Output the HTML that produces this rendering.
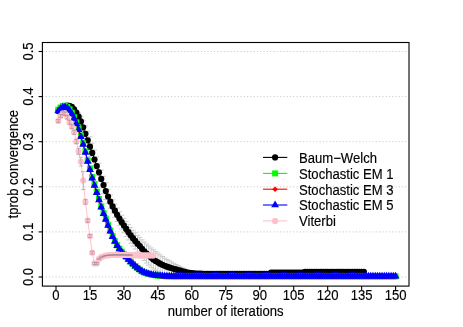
<!DOCTYPE html><html><head><meta charset="utf-8"><title>plot</title><style>html,body{margin:0;padding:0;background:#fff}svg{display:block}text{font-family:"Liberation Sans",sans-serif;font-size:13.1px;fill:#000;stroke:#000;stroke-width:0.15px}</style></head><body>
<svg width="463" height="327" viewBox="0 0 463 327">
<rect width="463" height="327" fill="#fff"/>
<defs><clipPath id="c"><rect x="42.40" y="42.50" width="366.60" height="243.60"/></clipPath></defs>
<g stroke="#cdcdcd" stroke-width="1" stroke-dasharray="1.2 2.1" fill="none">
<line x1="42.40" y1="277.00" x2="409.00" y2="277.00"/>
<line x1="42.40" y1="231.90" x2="409.00" y2="231.90"/>
<line x1="42.40" y1="186.80" x2="409.00" y2="186.80"/>
<line x1="42.40" y1="141.70" x2="409.00" y2="141.70"/>
<line x1="42.40" y1="96.60" x2="409.00" y2="96.60"/>
<line x1="42.40" y1="51.50" x2="409.00" y2="51.50"/>
</g>
<g clip-path="url(#c)">
<g stroke="#c6c6c6" stroke-width="0.90" fill="none"><path d="M58.26 111.48V110.58M55.66 111.48H60.86M55.66 110.58H60.86M60.53 109.23V108.32M57.93 109.23H63.13M57.93 108.32H63.13M62.79 107.67V106.73M60.19 107.67H65.39M60.19 106.73H65.39M65.06 106.57V105.57M62.46 106.57H67.66M62.46 105.57H67.66M67.32 106.16V105.08M64.72 106.16H69.92M64.72 105.08H69.92M69.58 106.45V105.24M66.98 106.45H72.18M66.98 105.24H72.18M71.85 107.65V106.30M69.25 107.65H74.45M69.25 106.30H74.45M74.11 110.49V108.42M71.51 110.49H76.71M71.51 108.42H76.71M76.38 114.59V110.63M73.78 114.59H78.98M73.78 110.63H78.98M78.64 120.28V113.06M76.04 120.28H81.24M76.04 113.06H81.24M80.90 126.37V116.44M78.30 126.37H83.50M78.30 116.44H83.50M83.17 133.94V120.77M80.57 133.94H85.77M80.57 120.77H85.77M85.43 141.70V125.91M82.83 141.70H88.03M82.83 125.91H88.03M87.70 149.50V131.19M85.10 149.50H90.30M85.10 131.19H90.30M89.96 156.49V136.83M87.36 156.49H92.56M87.36 136.83H92.56M92.22 162.81V143.14M89.62 162.81H94.82M89.62 143.14H94.82M94.49 169.11V149.92M91.89 169.11H97.09M91.89 149.92H97.09M96.75 175.30V156.81M94.15 175.30H99.35M94.15 156.81H99.35M99.02 181.42V163.31M96.42 181.42H101.62M96.42 163.31H101.62M101.28 187.80V170.01M98.68 187.80H103.88M98.68 170.01H103.88M103.54 193.70V176.29M100.94 193.70H106.14M100.94 176.29H106.14M105.81 199.52V182.65M103.21 199.52H108.41M103.21 182.65H108.41M108.07 203.49V189.51M105.47 203.49H110.67M105.47 189.51H110.67M110.34 208.41V194.96M107.74 208.41H112.94M107.74 194.96H112.94M112.60 213.05V199.79M110.00 213.05H115.20M110.00 199.79H115.20M114.86 217.35V204.05M112.26 217.35H117.46M112.26 204.05H117.46M117.13 221.47V208.06M114.53 221.47H119.73M114.53 208.06H119.73M119.39 225.39V211.81M116.79 225.39H121.99M116.79 211.81H121.99M121.66 229.10V215.30M119.06 229.10H124.26M119.06 215.30H124.26M123.92 232.80V218.37M121.32 232.80H126.52M121.32 218.37H126.52M126.18 236.55V221.39M123.58 236.55H128.78M123.58 221.39H128.78M128.45 239.88V224.37M125.85 239.88H131.05M125.85 224.37H131.05M130.71 243.18V227.39M128.11 243.18H133.31M128.11 227.39H133.31M132.98 246.23V230.20M130.38 246.23H135.58M130.38 230.20H135.58M135.24 249.06V232.78M132.64 249.06H137.84M132.64 232.78H137.84M137.50 251.92V235.33M134.90 251.92H140.10M134.90 235.33H140.10M139.77 254.76V237.45M137.17 254.76H142.37M137.17 237.45H142.37M142.03 257.83V239.79M139.43 257.83H144.63M139.43 239.79H144.63M144.30 260.52V242.07M141.70 260.52H146.90M141.70 242.07H146.90M146.56 262.96V244.14M143.96 262.96H149.16M143.96 244.14H149.16M148.82 265.14V246.02M146.22 265.14H151.42M146.22 246.02H151.42M151.09 267.27V247.95M148.49 267.27H153.69M148.49 247.95H153.69M153.35 269.11V249.71M150.75 269.11H155.95M150.75 249.71H155.95M155.62 270.57V251.41M153.02 270.57H158.22M153.02 251.41H158.22M157.88 271.62V253.07M155.28 271.62H160.48M155.28 253.07H160.48M160.14 272.52V254.87M157.54 272.52H162.74M157.54 254.87H162.74M162.41 273.11V256.54M159.81 273.11H165.01M159.81 256.54H165.01M164.67 273.44V258.01M162.07 273.44H167.27M162.07 258.01H167.27M166.94 273.78V259.47M164.34 273.78H169.54M164.34 259.47H169.54M169.20 274.04V260.75M166.60 274.04H171.80M166.60 260.75H171.80M171.46 274.21V262.01M168.86 274.21H174.06M168.86 262.01H174.06M173.73 274.31V263.28M171.13 274.31H176.33M171.13 263.28H176.33M175.99 274.39V264.50M173.39 274.39H178.59M173.39 264.50H178.59M178.26 274.49V265.65M175.66 274.49H180.86M175.66 265.65H180.86M180.52 274.62V266.76M177.92 274.62H183.12M177.92 266.76H183.12M182.78 274.78V267.89M180.18 274.78H185.38M180.18 267.89H185.38M185.05 274.95V268.99M182.45 274.95H187.65M182.45 268.99H187.65M187.31 275.03V269.95M184.71 275.03H189.91M184.71 269.95H189.91M189.58 275.03V270.74M186.98 275.03H192.18M186.98 270.74H192.18M191.84 274.97V271.36M189.24 274.97H194.44M189.24 271.36H194.44M194.10 274.84V271.87M191.50 274.84H196.70M191.50 271.87H196.70M196.37 274.66V272.35M193.77 274.66H198.97M193.77 272.35H198.97M198.63 274.47V272.76M196.03 274.47H201.23M196.03 272.76H201.23M200.90 274.32V273.12M198.30 274.32H203.50M198.30 273.12H203.50M203.16 274.24V273.38M200.56 274.24H205.76M200.56 273.38H205.76M205.42 274.20V273.48M202.82 274.20H208.02M202.82 273.48H208.02M207.69 274.20V273.49M205.09 274.20H210.29M205.09 273.49H210.29M209.95 274.19V273.49M207.35 274.19H212.55M207.35 273.49H212.55M212.22 274.19V273.50M209.62 274.19H214.82M209.62 273.50H214.82M214.48 274.18V273.50M211.88 274.18H217.08M211.88 273.50H217.08M216.74 274.18V273.51M214.14 274.18H219.34M214.14 273.51H219.34M219.01 274.17V273.51M216.41 274.17H221.61M216.41 273.51H221.61M221.27 274.17V273.52M218.67 274.17H223.87M218.67 273.52H223.87M223.54 274.17V273.52M220.94 274.17H226.14M220.94 273.52H226.14M225.80 274.16V273.52M223.20 274.16H228.40M223.20 273.52H228.40M228.06 274.16V273.53M225.46 274.16H230.66M225.46 273.53H230.66M230.33 274.15V273.53M227.73 274.15H232.93M227.73 273.53H232.93M232.59 274.15V273.54M229.99 274.15H235.19M229.99 273.54H235.19M234.86 274.15V273.54M232.26 274.15H237.46M232.26 273.54H237.46M237.12 274.14V273.54M234.52 274.14H239.72M234.52 273.54H239.72M239.38 274.14V273.55M236.78 274.14H241.98M236.78 273.55H241.98M241.65 274.14V273.55M239.05 274.14H244.25M239.05 273.55H244.25M243.91 274.13V273.55M241.31 274.13H246.51M241.31 273.55H246.51M246.18 274.13V273.56M243.58 274.13H248.78M243.58 273.56H248.78M248.44 274.13V273.56M245.84 274.13H251.04M245.84 273.56H251.04M250.70 274.12V273.56M248.10 274.12H253.30M248.10 273.56H253.30M252.97 274.12V273.57M250.37 274.12H255.57M250.37 273.57H255.57M255.23 274.12V273.57M252.63 274.12H257.83M252.63 273.57H257.83M257.50 274.11V273.57M254.90 274.11H260.10M254.90 273.57H260.10M259.76 274.11V273.57M257.16 274.11H262.36M257.16 273.57H262.36M262.02 274.11V273.58M259.42 274.11H264.62M259.42 273.58H264.62M264.29 274.11V273.58M261.69 274.11H266.89M261.69 273.58H266.89M266.55 274.10V273.58M263.95 274.10H269.15M263.95 273.58H269.15M268.82 274.10V273.58M266.22 274.10H271.42M266.22 273.58H271.42M271.08 272.97V272.46M268.48 272.97H273.68M268.48 272.46H273.68M273.34 272.97V272.46M270.74 272.97H275.94M270.74 272.46H275.94M275.61 272.97V272.46M273.01 272.97H278.21M273.01 272.46H278.21M277.87 272.97V272.46M275.27 272.97H280.47M275.27 272.46H280.47M280.14 272.97V272.47M277.54 272.97H282.74M277.54 272.47H282.74M282.40 272.96V272.47M279.80 272.96H285.00M279.80 272.47H285.00M284.66 272.96V272.47M282.06 272.96H287.26M282.06 272.47H287.26M286.93 272.96V272.47M284.33 272.96H289.53M284.33 272.47H289.53M289.19 272.96V272.47M286.59 272.96H291.79M286.59 272.47H291.79M291.46 272.96V272.47M288.86 272.96H294.06M288.86 272.47H294.06M293.72 272.96V272.47M291.12 272.96H296.32M291.12 272.47H296.32M295.98 272.96V272.48M293.38 272.96H298.58M293.38 272.48H298.58M298.25 272.95V272.48M295.65 272.95H300.85M295.65 272.48H300.85M300.51 272.95V272.48M297.91 272.95H303.11M297.91 272.48H303.11M302.78 272.95V272.48M300.18 272.95H305.38M300.18 272.48H305.38M305.04 272.00V271.53M302.44 272.00H307.64M302.44 271.53H307.64M307.30 272.00V271.53M304.70 272.00H309.90M304.70 271.53H309.90M309.57 272.00V271.53M306.97 272.00H312.17M306.97 271.53H312.17M311.83 272.00V271.54M309.23 272.00H314.43M309.23 271.54H314.43M314.10 272.00V271.54M311.50 272.00H316.70M311.50 271.54H316.70M316.36 272.00V271.54M313.76 272.00H318.96M313.76 271.54H318.96M318.62 272.00V271.54M316.02 272.00H321.22M316.02 271.54H321.22M320.89 272.00V271.54M318.29 272.00H323.49M318.29 271.54H323.49M323.15 272.00V271.54M320.55 272.00H325.75M320.55 271.54H325.75M325.42 272.00V271.54M322.82 272.00H328.02M322.82 271.54H328.02M327.68 272.00V271.54M325.08 272.00H330.28M325.08 271.54H330.28M329.94 272.00V271.54M327.34 272.00H332.54M327.34 271.54H332.54M332.21 272.00V271.54M329.61 272.00H334.81M329.61 271.54H334.81M334.47 272.00V271.54M331.87 272.00H337.07M331.87 271.54H337.07M336.74 272.00V271.54M334.14 272.00H339.34M334.14 271.54H339.34M339.00 272.00V271.54M336.40 272.00H341.60M336.40 271.54H341.60M341.26 271.99V271.54M338.66 271.99H343.86M338.66 271.54H343.86M343.53 271.99V271.54M340.93 271.99H346.13M340.93 271.54H346.13M345.79 271.99V271.54M343.19 271.99H348.39M343.19 271.54H348.39M348.06 271.99V271.54M345.46 271.99H350.66M345.46 271.54H350.66M350.32 271.99V271.54M347.72 271.99H352.92M347.72 271.54H352.92M352.58 271.99V271.54M349.98 271.99H355.18M349.98 271.54H355.18M354.85 271.99V271.54M352.25 271.99H357.45M352.25 271.54H357.45M357.11 271.99V271.54M354.51 271.99H359.71M354.51 271.54H359.71M359.38 271.99V271.54M356.78 271.99H361.98M356.78 271.54H361.98M361.64 271.99V271.54M359.04 271.99H364.24M359.04 271.54H364.24M363.90 271.99V271.54M361.30 271.99H366.50M361.30 271.54H366.50"/></g>
<polyline points="58.26,111.03 60.53,108.78 62.79,107.20 65.06,106.07 67.32,105.62 69.58,105.85 71.85,106.97 74.11,109.45 76.38,112.61 78.64,116.67 80.90,121.41 83.17,127.36 85.43,133.81 87.70,140.35 89.96,146.66 92.22,152.97 94.49,159.51 96.75,166.05 99.02,172.37 101.28,178.91 103.54,185.00 105.81,191.08 108.07,196.50 110.34,201.68 112.60,206.42 114.86,210.70 117.13,214.76 119.39,218.60 121.66,222.20 123.92,225.59 126.18,228.97 128.45,232.13 130.71,235.28 132.98,238.21 135.24,240.92 137.50,243.63 139.77,246.11 142.03,248.81 144.30,251.29 146.56,253.55 148.82,255.58 151.09,257.61 153.35,259.41 155.62,260.99 157.88,262.34 160.14,263.70 162.41,264.82 164.67,265.73 166.94,266.63 169.20,267.39 171.46,268.11 173.73,268.79 175.99,269.44 178.26,270.07 180.52,270.69 182.78,271.33 185.05,271.97 187.31,272.49 189.58,272.88 191.84,273.17 194.10,273.36 196.37,273.50 198.63,273.62 200.90,273.72 203.16,273.81 205.42,273.84 207.69,273.84 209.95,273.84 212.22,273.84 214.48,273.84 216.74,273.84 219.01,273.84 221.27,273.84 223.54,273.84 225.80,273.84 228.06,273.84 230.33,273.84 232.59,273.84 234.86,273.84 237.12,273.84 239.38,273.84 241.65,273.84 243.91,273.84 246.18,273.84 248.44,273.84 250.70,273.84 252.97,273.84 255.23,273.84 257.50,273.84 259.76,273.84 262.02,273.84 264.29,273.84 266.55,273.84 268.82,273.84 271.08,272.72 273.34,272.72 275.61,272.72 277.87,272.72 280.14,272.72 282.40,272.72 284.66,272.72 286.93,272.72 289.19,272.72 291.46,272.72 293.72,272.72 295.98,272.72 298.25,272.72 300.51,272.72 302.78,272.72 305.04,271.77 307.30,271.77 309.57,271.77 311.83,271.77 314.10,271.77 316.36,271.77 318.62,271.77 320.89,271.77 323.15,271.77 325.42,271.77 327.68,271.77 329.94,271.77 332.21,271.77 334.47,271.77 336.74,271.77 339.00,271.77 341.26,271.77 343.53,271.77 345.79,271.77 348.06,271.77 350.32,271.77 352.58,271.77 354.85,271.77 357.11,271.77 359.38,271.77 361.64,271.77 363.90,271.77" fill="none" stroke="#000" stroke-width="1.00"/>
<circle cx="58.26" cy="111.03" r="3.10" fill="#000"/><circle cx="60.53" cy="108.78" r="3.10" fill="#000"/><circle cx="62.79" cy="107.20" r="3.10" fill="#000"/><circle cx="65.06" cy="106.07" r="3.10" fill="#000"/><circle cx="67.32" cy="105.62" r="3.10" fill="#000"/><circle cx="69.58" cy="105.85" r="3.10" fill="#000"/><circle cx="71.85" cy="106.97" r="3.10" fill="#000"/><circle cx="74.11" cy="109.45" r="3.10" fill="#000"/><circle cx="76.38" cy="112.61" r="3.10" fill="#000"/><circle cx="78.64" cy="116.67" r="3.10" fill="#000"/><circle cx="80.90" cy="121.41" r="3.10" fill="#000"/><circle cx="83.17" cy="127.36" r="3.10" fill="#000"/><circle cx="85.43" cy="133.81" r="3.10" fill="#000"/><circle cx="87.70" cy="140.35" r="3.10" fill="#000"/><circle cx="89.96" cy="146.66" r="3.10" fill="#000"/><circle cx="92.22" cy="152.97" r="3.10" fill="#000"/><circle cx="94.49" cy="159.51" r="3.10" fill="#000"/><circle cx="96.75" cy="166.05" r="3.10" fill="#000"/><circle cx="99.02" cy="172.37" r="3.10" fill="#000"/><circle cx="101.28" cy="178.91" r="3.10" fill="#000"/><circle cx="103.54" cy="185.00" r="3.10" fill="#000"/><circle cx="105.81" cy="191.08" r="3.10" fill="#000"/><circle cx="108.07" cy="196.50" r="3.10" fill="#000"/><circle cx="110.34" cy="201.68" r="3.10" fill="#000"/><circle cx="112.60" cy="206.42" r="3.10" fill="#000"/><circle cx="114.86" cy="210.70" r="3.10" fill="#000"/><circle cx="117.13" cy="214.76" r="3.10" fill="#000"/><circle cx="119.39" cy="218.60" r="3.10" fill="#000"/><circle cx="121.66" cy="222.20" r="3.10" fill="#000"/><circle cx="123.92" cy="225.59" r="3.10" fill="#000"/><circle cx="126.18" cy="228.97" r="3.10" fill="#000"/><circle cx="128.45" cy="232.13" r="3.10" fill="#000"/><circle cx="130.71" cy="235.28" r="3.10" fill="#000"/><circle cx="132.98" cy="238.21" r="3.10" fill="#000"/><circle cx="135.24" cy="240.92" r="3.10" fill="#000"/><circle cx="137.50" cy="243.63" r="3.10" fill="#000"/><circle cx="139.77" cy="246.11" r="3.10" fill="#000"/><circle cx="142.03" cy="248.81" r="3.10" fill="#000"/><circle cx="144.30" cy="251.29" r="3.10" fill="#000"/><circle cx="146.56" cy="253.55" r="3.10" fill="#000"/><circle cx="148.82" cy="255.58" r="3.10" fill="#000"/><circle cx="151.09" cy="257.61" r="3.10" fill="#000"/><circle cx="153.35" cy="259.41" r="3.10" fill="#000"/><circle cx="155.62" cy="260.99" r="3.10" fill="#000"/><circle cx="157.88" cy="262.34" r="3.10" fill="#000"/><circle cx="160.14" cy="263.70" r="3.10" fill="#000"/><circle cx="162.41" cy="264.82" r="3.10" fill="#000"/><circle cx="164.67" cy="265.73" r="3.10" fill="#000"/><circle cx="166.94" cy="266.63" r="3.10" fill="#000"/><circle cx="169.20" cy="267.39" r="3.10" fill="#000"/><circle cx="171.46" cy="268.11" r="3.10" fill="#000"/><circle cx="173.73" cy="268.79" r="3.10" fill="#000"/><circle cx="175.99" cy="269.44" r="3.10" fill="#000"/><circle cx="178.26" cy="270.07" r="3.10" fill="#000"/><circle cx="180.52" cy="270.69" r="3.10" fill="#000"/><circle cx="182.78" cy="271.33" r="3.10" fill="#000"/><circle cx="185.05" cy="271.97" r="3.10" fill="#000"/><circle cx="187.31" cy="272.49" r="3.10" fill="#000"/><circle cx="189.58" cy="272.88" r="3.10" fill="#000"/><circle cx="191.84" cy="273.17" r="3.10" fill="#000"/><circle cx="194.10" cy="273.36" r="3.10" fill="#000"/><circle cx="196.37" cy="273.50" r="3.10" fill="#000"/><circle cx="198.63" cy="273.62" r="3.10" fill="#000"/><circle cx="200.90" cy="273.72" r="3.10" fill="#000"/><circle cx="203.16" cy="273.81" r="3.10" fill="#000"/><circle cx="205.42" cy="273.84" r="3.10" fill="#000"/><circle cx="207.69" cy="273.84" r="3.10" fill="#000"/><circle cx="209.95" cy="273.84" r="3.10" fill="#000"/><circle cx="212.22" cy="273.84" r="3.10" fill="#000"/><circle cx="214.48" cy="273.84" r="3.10" fill="#000"/><circle cx="216.74" cy="273.84" r="3.10" fill="#000"/><circle cx="219.01" cy="273.84" r="3.10" fill="#000"/><circle cx="221.27" cy="273.84" r="3.10" fill="#000"/><circle cx="223.54" cy="273.84" r="3.10" fill="#000"/><circle cx="225.80" cy="273.84" r="3.10" fill="#000"/><circle cx="228.06" cy="273.84" r="3.10" fill="#000"/><circle cx="230.33" cy="273.84" r="3.10" fill="#000"/><circle cx="232.59" cy="273.84" r="3.10" fill="#000"/><circle cx="234.86" cy="273.84" r="3.10" fill="#000"/><circle cx="237.12" cy="273.84" r="3.10" fill="#000"/><circle cx="239.38" cy="273.84" r="3.10" fill="#000"/><circle cx="241.65" cy="273.84" r="3.10" fill="#000"/><circle cx="243.91" cy="273.84" r="3.10" fill="#000"/><circle cx="246.18" cy="273.84" r="3.10" fill="#000"/><circle cx="248.44" cy="273.84" r="3.10" fill="#000"/><circle cx="250.70" cy="273.84" r="3.10" fill="#000"/><circle cx="252.97" cy="273.84" r="3.10" fill="#000"/><circle cx="255.23" cy="273.84" r="3.10" fill="#000"/><circle cx="257.50" cy="273.84" r="3.10" fill="#000"/><circle cx="259.76" cy="273.84" r="3.10" fill="#000"/><circle cx="262.02" cy="273.84" r="3.10" fill="#000"/><circle cx="264.29" cy="273.84" r="3.10" fill="#000"/><circle cx="266.55" cy="273.84" r="3.10" fill="#000"/><circle cx="268.82" cy="273.84" r="3.10" fill="#000"/><circle cx="271.08" cy="272.72" r="3.10" fill="#000"/><circle cx="273.34" cy="272.72" r="3.10" fill="#000"/><circle cx="275.61" cy="272.72" r="3.10" fill="#000"/><circle cx="277.87" cy="272.72" r="3.10" fill="#000"/><circle cx="280.14" cy="272.72" r="3.10" fill="#000"/><circle cx="282.40" cy="272.72" r="3.10" fill="#000"/><circle cx="284.66" cy="272.72" r="3.10" fill="#000"/><circle cx="286.93" cy="272.72" r="3.10" fill="#000"/><circle cx="289.19" cy="272.72" r="3.10" fill="#000"/><circle cx="291.46" cy="272.72" r="3.10" fill="#000"/><circle cx="293.72" cy="272.72" r="3.10" fill="#000"/><circle cx="295.98" cy="272.72" r="3.10" fill="#000"/><circle cx="298.25" cy="272.72" r="3.10" fill="#000"/><circle cx="300.51" cy="272.72" r="3.10" fill="#000"/><circle cx="302.78" cy="272.72" r="3.10" fill="#000"/><circle cx="305.04" cy="271.77" r="3.10" fill="#000"/><circle cx="307.30" cy="271.77" r="3.10" fill="#000"/><circle cx="309.57" cy="271.77" r="3.10" fill="#000"/><circle cx="311.83" cy="271.77" r="3.10" fill="#000"/><circle cx="314.10" cy="271.77" r="3.10" fill="#000"/><circle cx="316.36" cy="271.77" r="3.10" fill="#000"/><circle cx="318.62" cy="271.77" r="3.10" fill="#000"/><circle cx="320.89" cy="271.77" r="3.10" fill="#000"/><circle cx="323.15" cy="271.77" r="3.10" fill="#000"/><circle cx="325.42" cy="271.77" r="3.10" fill="#000"/><circle cx="327.68" cy="271.77" r="3.10" fill="#000"/><circle cx="329.94" cy="271.77" r="3.10" fill="#000"/><circle cx="332.21" cy="271.77" r="3.10" fill="#000"/><circle cx="334.47" cy="271.77" r="3.10" fill="#000"/><circle cx="336.74" cy="271.77" r="3.10" fill="#000"/><circle cx="339.00" cy="271.77" r="3.10" fill="#000"/><circle cx="341.26" cy="271.77" r="3.10" fill="#000"/><circle cx="343.53" cy="271.77" r="3.10" fill="#000"/><circle cx="345.79" cy="271.77" r="3.10" fill="#000"/><circle cx="348.06" cy="271.77" r="3.10" fill="#000"/><circle cx="350.32" cy="271.77" r="3.10" fill="#000"/><circle cx="352.58" cy="271.77" r="3.10" fill="#000"/><circle cx="354.85" cy="271.77" r="3.10" fill="#000"/><circle cx="357.11" cy="271.77" r="3.10" fill="#000"/><circle cx="359.38" cy="271.77" r="3.10" fill="#000"/><circle cx="361.64" cy="271.77" r="3.10" fill="#000"/><circle cx="363.90" cy="271.77" r="3.10" fill="#000"/>
<polyline points="58.26,109.77 60.53,107.51 62.79,105.94 65.06,105.71 67.32,106.84 69.58,109.32 71.85,112.70 74.11,117.21 76.38,122.40 78.64,128.49 80.90,135.48 83.17,143.14 85.43,151.26 87.70,160.28 89.96,168.49 92.22,177.10 94.49,184.35 96.75,191.66 99.02,198.97 101.28,206.29 103.54,213.01 105.81,218.72 108.07,224.89 110.34,230.61 112.60,236.09 114.86,241.12 117.13,245.23 119.39,248.66 121.66,251.63 123.92,254.15 126.18,256.62 128.45,259.15 130.71,261.67 132.98,263.93 135.24,266.04 137.50,267.95 139.77,269.62 142.03,271.15 144.30,272.38 146.56,273.22 148.82,273.89 151.09,274.44 153.35,274.91 155.62,275.33 157.88,275.63 160.14,275.84 162.41,276.01 164.67,276.13 166.94,276.22 169.20,276.29 171.46,276.34 173.73,276.36 175.99,276.36 178.26,276.36 180.52,276.36 182.78,276.36 185.05,276.36 187.31,276.36 189.58,276.36 191.84,276.36 194.10,276.36 196.37,276.36 198.63,276.36 200.90,276.36 203.16,276.36 205.42,276.36 207.69,276.36 209.95,276.36 212.22,276.36 214.48,276.36 216.74,276.36 219.01,276.36 221.27,276.36 223.54,276.36 225.80,276.36 228.06,276.36 230.33,276.36 232.59,276.36 234.86,276.36 237.12,276.36 239.38,276.36 241.65,276.36 243.91,276.36 246.18,276.36 248.44,276.36 250.70,276.36 252.97,276.36 255.23,276.36 257.50,276.36 259.76,276.36 262.02,276.36 264.29,276.36 266.55,276.36 268.82,276.36 271.08,276.36 273.34,276.36 275.61,276.36 277.87,276.36 280.14,276.36 282.40,276.36 284.66,276.36 286.93,276.36 289.19,276.36 291.46,276.36 293.72,276.36 295.98,276.36 298.25,276.36 300.51,276.36 302.78,276.36 305.04,276.36 307.30,276.36 309.57,276.36 311.83,276.36 314.10,276.36 316.36,276.36 318.62,276.36 320.89,276.36 323.15,276.36 325.42,276.36 327.68,276.36 329.94,276.36 332.21,276.36 334.47,276.36 336.74,276.36 339.00,276.36 341.26,276.36 343.53,276.36 345.79,276.36 348.06,276.36 350.32,276.36 352.58,276.36 354.85,276.36 357.11,276.36 359.38,276.36 361.64,276.36 363.90,276.36 366.17,276.36 368.43,276.36 370.70,276.36 372.96,276.36 375.22,276.36 377.49,276.36 379.75,276.36 382.02,276.36 384.28,276.36 386.54,276.36 388.81,276.36 391.07,276.36 393.34,276.36 395.60,276.36" fill="none" stroke="#00ff00" stroke-width="1.00"/>
<rect x="55.26" y="106.77" width="6.00" height="6.00" fill="#00ff00"/><rect x="57.53" y="104.51" width="6.00" height="6.00" fill="#00ff00"/><rect x="59.79" y="102.94" width="6.00" height="6.00" fill="#00ff00"/><rect x="62.06" y="102.71" width="6.00" height="6.00" fill="#00ff00"/><rect x="64.32" y="103.84" width="6.00" height="6.00" fill="#00ff00"/><rect x="66.58" y="106.32" width="6.00" height="6.00" fill="#00ff00"/><rect x="68.85" y="109.70" width="6.00" height="6.00" fill="#00ff00"/><rect x="71.11" y="114.21" width="6.00" height="6.00" fill="#00ff00"/><rect x="73.38" y="119.40" width="6.00" height="6.00" fill="#00ff00"/><rect x="75.64" y="125.49" width="6.00" height="6.00" fill="#00ff00"/><rect x="77.90" y="132.48" width="6.00" height="6.00" fill="#00ff00"/><rect x="80.17" y="140.14" width="6.00" height="6.00" fill="#00ff00"/><rect x="82.43" y="148.26" width="6.00" height="6.00" fill="#00ff00"/><rect x="84.70" y="157.28" width="6.00" height="6.00" fill="#00ff00"/><rect x="86.96" y="165.49" width="6.00" height="6.00" fill="#00ff00"/><rect x="89.22" y="174.10" width="6.00" height="6.00" fill="#00ff00"/><rect x="91.49" y="181.35" width="6.00" height="6.00" fill="#00ff00"/><rect x="93.75" y="188.66" width="6.00" height="6.00" fill="#00ff00"/><rect x="96.02" y="195.97" width="6.00" height="6.00" fill="#00ff00"/><rect x="98.28" y="203.29" width="6.00" height="6.00" fill="#00ff00"/><rect x="100.54" y="210.01" width="6.00" height="6.00" fill="#00ff00"/><rect x="102.81" y="215.72" width="6.00" height="6.00" fill="#00ff00"/><rect x="105.07" y="221.89" width="6.00" height="6.00" fill="#00ff00"/><rect x="107.34" y="227.61" width="6.00" height="6.00" fill="#00ff00"/><rect x="109.60" y="233.09" width="6.00" height="6.00" fill="#00ff00"/><rect x="111.86" y="238.12" width="6.00" height="6.00" fill="#00ff00"/><rect x="114.13" y="242.23" width="6.00" height="6.00" fill="#00ff00"/><rect x="116.39" y="245.66" width="6.00" height="6.00" fill="#00ff00"/><rect x="118.66" y="248.63" width="6.00" height="6.00" fill="#00ff00"/><rect x="120.92" y="251.15" width="6.00" height="6.00" fill="#00ff00"/><rect x="123.18" y="253.62" width="6.00" height="6.00" fill="#00ff00"/><rect x="125.45" y="256.15" width="6.00" height="6.00" fill="#00ff00"/><rect x="127.71" y="258.67" width="6.00" height="6.00" fill="#00ff00"/><rect x="129.98" y="260.93" width="6.00" height="6.00" fill="#00ff00"/><rect x="132.24" y="263.04" width="6.00" height="6.00" fill="#00ff00"/><rect x="134.50" y="264.95" width="6.00" height="6.00" fill="#00ff00"/><rect x="136.77" y="266.62" width="6.00" height="6.00" fill="#00ff00"/><rect x="139.03" y="268.15" width="6.00" height="6.00" fill="#00ff00"/><rect x="141.30" y="269.38" width="6.00" height="6.00" fill="#00ff00"/><rect x="143.56" y="270.22" width="6.00" height="6.00" fill="#00ff00"/><rect x="145.82" y="270.89" width="6.00" height="6.00" fill="#00ff00"/><rect x="148.09" y="271.44" width="6.00" height="6.00" fill="#00ff00"/><rect x="150.35" y="271.91" width="6.00" height="6.00" fill="#00ff00"/><rect x="152.62" y="272.33" width="6.00" height="6.00" fill="#00ff00"/><rect x="154.88" y="272.63" width="6.00" height="6.00" fill="#00ff00"/><rect x="157.14" y="272.84" width="6.00" height="6.00" fill="#00ff00"/><rect x="159.41" y="273.01" width="6.00" height="6.00" fill="#00ff00"/><rect x="161.67" y="273.13" width="6.00" height="6.00" fill="#00ff00"/><rect x="163.94" y="273.22" width="6.00" height="6.00" fill="#00ff00"/><rect x="166.20" y="273.29" width="6.00" height="6.00" fill="#00ff00"/><rect x="168.46" y="273.34" width="6.00" height="6.00" fill="#00ff00"/><rect x="170.73" y="273.36" width="6.00" height="6.00" fill="#00ff00"/><rect x="172.99" y="273.36" width="6.00" height="6.00" fill="#00ff00"/><rect x="175.26" y="273.36" width="6.00" height="6.00" fill="#00ff00"/><rect x="177.52" y="273.36" width="6.00" height="6.00" fill="#00ff00"/><rect x="179.78" y="273.36" width="6.00" height="6.00" fill="#00ff00"/><rect x="182.05" y="273.36" width="6.00" height="6.00" fill="#00ff00"/><rect x="184.31" y="273.36" width="6.00" height="6.00" fill="#00ff00"/><rect x="186.58" y="273.36" width="6.00" height="6.00" fill="#00ff00"/><rect x="188.84" y="273.36" width="6.00" height="6.00" fill="#00ff00"/><rect x="191.10" y="273.36" width="6.00" height="6.00" fill="#00ff00"/><rect x="193.37" y="273.36" width="6.00" height="6.00" fill="#00ff00"/><rect x="195.63" y="273.36" width="6.00" height="6.00" fill="#00ff00"/><rect x="197.90" y="273.36" width="6.00" height="6.00" fill="#00ff00"/><rect x="200.16" y="273.36" width="6.00" height="6.00" fill="#00ff00"/><rect x="202.42" y="273.36" width="6.00" height="6.00" fill="#00ff00"/><rect x="204.69" y="273.36" width="6.00" height="6.00" fill="#00ff00"/><rect x="206.95" y="273.36" width="6.00" height="6.00" fill="#00ff00"/><rect x="209.22" y="273.36" width="6.00" height="6.00" fill="#00ff00"/><rect x="211.48" y="273.36" width="6.00" height="6.00" fill="#00ff00"/><rect x="213.74" y="273.36" width="6.00" height="6.00" fill="#00ff00"/><rect x="216.01" y="273.36" width="6.00" height="6.00" fill="#00ff00"/><rect x="218.27" y="273.36" width="6.00" height="6.00" fill="#00ff00"/><rect x="220.54" y="273.36" width="6.00" height="6.00" fill="#00ff00"/><rect x="222.80" y="273.36" width="6.00" height="6.00" fill="#00ff00"/><rect x="225.06" y="273.36" width="6.00" height="6.00" fill="#00ff00"/><rect x="227.33" y="273.36" width="6.00" height="6.00" fill="#00ff00"/><rect x="229.59" y="273.36" width="6.00" height="6.00" fill="#00ff00"/><rect x="231.86" y="273.36" width="6.00" height="6.00" fill="#00ff00"/><rect x="234.12" y="273.36" width="6.00" height="6.00" fill="#00ff00"/><rect x="236.38" y="273.36" width="6.00" height="6.00" fill="#00ff00"/><rect x="238.65" y="273.36" width="6.00" height="6.00" fill="#00ff00"/><rect x="240.91" y="273.36" width="6.00" height="6.00" fill="#00ff00"/><rect x="243.18" y="273.36" width="6.00" height="6.00" fill="#00ff00"/><rect x="245.44" y="273.36" width="6.00" height="6.00" fill="#00ff00"/><rect x="247.70" y="273.36" width="6.00" height="6.00" fill="#00ff00"/><rect x="249.97" y="273.36" width="6.00" height="6.00" fill="#00ff00"/><rect x="252.23" y="273.36" width="6.00" height="6.00" fill="#00ff00"/><rect x="254.50" y="273.36" width="6.00" height="6.00" fill="#00ff00"/><rect x="256.76" y="273.36" width="6.00" height="6.00" fill="#00ff00"/><rect x="259.02" y="273.36" width="6.00" height="6.00" fill="#00ff00"/><rect x="261.29" y="273.36" width="6.00" height="6.00" fill="#00ff00"/><rect x="263.55" y="273.36" width="6.00" height="6.00" fill="#00ff00"/><rect x="265.82" y="273.36" width="6.00" height="6.00" fill="#00ff00"/><rect x="268.08" y="273.36" width="6.00" height="6.00" fill="#00ff00"/><rect x="270.34" y="273.36" width="6.00" height="6.00" fill="#00ff00"/><rect x="272.61" y="273.36" width="6.00" height="6.00" fill="#00ff00"/><rect x="274.87" y="273.36" width="6.00" height="6.00" fill="#00ff00"/><rect x="277.14" y="273.36" width="6.00" height="6.00" fill="#00ff00"/><rect x="279.40" y="273.36" width="6.00" height="6.00" fill="#00ff00"/><rect x="281.66" y="273.36" width="6.00" height="6.00" fill="#00ff00"/><rect x="283.93" y="273.36" width="6.00" height="6.00" fill="#00ff00"/><rect x="286.19" y="273.36" width="6.00" height="6.00" fill="#00ff00"/><rect x="288.46" y="273.36" width="6.00" height="6.00" fill="#00ff00"/><rect x="290.72" y="273.36" width="6.00" height="6.00" fill="#00ff00"/><rect x="292.98" y="273.36" width="6.00" height="6.00" fill="#00ff00"/><rect x="295.25" y="273.36" width="6.00" height="6.00" fill="#00ff00"/><rect x="297.51" y="273.36" width="6.00" height="6.00" fill="#00ff00"/><rect x="299.78" y="273.36" width="6.00" height="6.00" fill="#00ff00"/><rect x="302.04" y="273.36" width="6.00" height="6.00" fill="#00ff00"/><rect x="304.30" y="273.36" width="6.00" height="6.00" fill="#00ff00"/><rect x="306.57" y="273.36" width="6.00" height="6.00" fill="#00ff00"/><rect x="308.83" y="273.36" width="6.00" height="6.00" fill="#00ff00"/><rect x="311.10" y="273.36" width="6.00" height="6.00" fill="#00ff00"/><rect x="313.36" y="273.36" width="6.00" height="6.00" fill="#00ff00"/><rect x="315.62" y="273.36" width="6.00" height="6.00" fill="#00ff00"/><rect x="317.89" y="273.36" width="6.00" height="6.00" fill="#00ff00"/><rect x="320.15" y="273.36" width="6.00" height="6.00" fill="#00ff00"/><rect x="322.42" y="273.36" width="6.00" height="6.00" fill="#00ff00"/><rect x="324.68" y="273.36" width="6.00" height="6.00" fill="#00ff00"/><rect x="326.94" y="273.36" width="6.00" height="6.00" fill="#00ff00"/><rect x="329.21" y="273.36" width="6.00" height="6.00" fill="#00ff00"/><rect x="331.47" y="273.36" width="6.00" height="6.00" fill="#00ff00"/><rect x="333.74" y="273.36" width="6.00" height="6.00" fill="#00ff00"/><rect x="336.00" y="273.36" width="6.00" height="6.00" fill="#00ff00"/><rect x="338.26" y="273.36" width="6.00" height="6.00" fill="#00ff00"/><rect x="340.53" y="273.36" width="6.00" height="6.00" fill="#00ff00"/><rect x="342.79" y="273.36" width="6.00" height="6.00" fill="#00ff00"/><rect x="345.06" y="273.36" width="6.00" height="6.00" fill="#00ff00"/><rect x="347.32" y="273.36" width="6.00" height="6.00" fill="#00ff00"/><rect x="349.58" y="273.36" width="6.00" height="6.00" fill="#00ff00"/><rect x="351.85" y="273.36" width="6.00" height="6.00" fill="#00ff00"/><rect x="354.11" y="273.36" width="6.00" height="6.00" fill="#00ff00"/><rect x="356.38" y="273.36" width="6.00" height="6.00" fill="#00ff00"/><rect x="358.64" y="273.36" width="6.00" height="6.00" fill="#00ff00"/><rect x="360.90" y="273.36" width="6.00" height="6.00" fill="#00ff00"/><rect x="363.17" y="273.36" width="6.00" height="6.00" fill="#00ff00"/><rect x="365.43" y="273.36" width="6.00" height="6.00" fill="#00ff00"/><rect x="367.70" y="273.36" width="6.00" height="6.00" fill="#00ff00"/><rect x="369.96" y="273.36" width="6.00" height="6.00" fill="#00ff00"/><rect x="372.22" y="273.36" width="6.00" height="6.00" fill="#00ff00"/><rect x="374.49" y="273.36" width="6.00" height="6.00" fill="#00ff00"/><rect x="376.75" y="273.36" width="6.00" height="6.00" fill="#00ff00"/><rect x="379.02" y="273.36" width="6.00" height="6.00" fill="#00ff00"/><rect x="381.28" y="273.36" width="6.00" height="6.00" fill="#00ff00"/><rect x="383.54" y="273.36" width="6.00" height="6.00" fill="#00ff00"/><rect x="385.81" y="273.36" width="6.00" height="6.00" fill="#00ff00"/><rect x="388.07" y="273.36" width="6.00" height="6.00" fill="#00ff00"/><rect x="390.34" y="273.36" width="6.00" height="6.00" fill="#00ff00"/><rect x="392.60" y="273.36" width="6.00" height="6.00" fill="#00ff00"/>
<polyline points="58.26,111.17 60.53,108.91 62.79,107.33 65.06,107.11 67.32,108.24 69.58,110.72 71.85,114.10 74.11,118.61 76.38,123.80 78.64,129.88 80.90,136.87 83.17,144.54 85.43,152.66 87.70,161.68 89.96,169.89 92.22,178.50 94.49,185.72 96.75,192.93 99.02,200.15 101.28,207.37 103.54,214.00 105.81,219.63 108.07,225.72 110.34,231.36 112.60,236.77 114.86,241.73 117.13,245.79 119.39,249.17 121.66,252.10 123.92,254.59 126.18,257.03 128.45,259.52 130.71,262.01 132.98,264.24 135.24,266.32 137.50,268.21 139.77,269.85 142.03,271.36 144.30,272.57 146.56,273.41 148.82,274.07 151.09,274.61 153.35,275.08 155.62,275.48 157.88,275.78 160.14,276.00 162.41,276.16 164.67,276.28 166.94,276.36 169.20,276.43 171.46,276.48 173.73,276.50 175.99,276.50 178.26,276.50 180.52,276.50 182.78,276.50 185.05,276.50 187.31,276.50 189.58,276.50 191.84,276.50 194.10,276.50 196.37,276.50 198.63,276.50 200.90,276.50 203.16,276.50 205.42,276.50 207.69,276.50 209.95,276.50 212.22,276.50 214.48,276.50 216.74,276.50 219.01,276.50 221.27,276.50 223.54,276.50 225.80,276.50 228.06,276.50 230.33,276.50 232.59,276.50 234.86,276.50 237.12,276.50 239.38,276.50 241.65,276.50 243.91,276.50 246.18,276.50 248.44,276.50 250.70,276.50 252.97,276.50 255.23,276.50 257.50,276.50 259.76,276.50 262.02,276.50 264.29,276.50 266.55,276.50 268.82,276.50 271.08,276.50 273.34,276.50 275.61,276.50 277.87,276.50 280.14,276.50 282.40,276.50 284.66,276.50 286.93,276.50 289.19,276.50 291.46,276.50 293.72,276.50 295.98,276.50 298.25,276.50 300.51,276.50 302.78,276.50 305.04,276.50 307.30,276.50 309.57,276.50 311.83,276.50 314.10,276.50 316.36,276.50 318.62,276.50 320.89,276.50 323.15,276.50 325.42,276.50 327.68,276.50 329.94,276.50 332.21,276.50 334.47,276.50 336.74,276.50 339.00,276.50 341.26,276.50 343.53,276.50 345.79,276.50 348.06,276.50 350.32,276.50 352.58,276.50 354.85,276.50 357.11,276.50 359.38,276.50 361.64,276.50 363.90,276.50 366.17,276.50 368.43,276.50 370.70,276.50 372.96,276.50 375.22,276.50 377.49,276.50 379.75,276.50 382.02,276.50 384.28,276.50 386.54,276.50 388.81,276.50 391.07,276.50 393.34,276.50 395.60,276.50" fill="none" stroke="#ff0000" stroke-width="1.00"/>
<path d="M55.46 111.17L58.26 108.37L61.06 111.17L58.26 113.97Z" fill="#ff0000"/><path d="M57.73 108.91L60.53 106.11L63.33 108.91L60.53 111.71Z" fill="#ff0000"/><path d="M59.99 107.33L62.79 104.53L65.59 107.33L62.79 110.13Z" fill="#ff0000"/><path d="M62.26 107.11L65.06 104.31L67.86 107.11L65.06 109.91Z" fill="#ff0000"/><path d="M64.52 108.24L67.32 105.44L70.12 108.24L67.32 111.04Z" fill="#ff0000"/><path d="M66.78 110.72L69.58 107.92L72.38 110.72L69.58 113.52Z" fill="#ff0000"/><path d="M69.05 114.10L71.85 111.30L74.65 114.10L71.85 116.90Z" fill="#ff0000"/><path d="M71.31 118.61L74.11 115.81L76.91 118.61L74.11 121.41Z" fill="#ff0000"/><path d="M73.58 123.80L76.38 121.00L79.18 123.80L76.38 126.60Z" fill="#ff0000"/><path d="M75.84 129.88L78.64 127.08L81.44 129.88L78.64 132.68Z" fill="#ff0000"/><path d="M78.10 136.87L80.90 134.07L83.70 136.87L80.90 139.67Z" fill="#ff0000"/><path d="M80.37 144.54L83.17 141.74L85.97 144.54L83.17 147.34Z" fill="#ff0000"/><path d="M82.63 152.66L85.43 149.86L88.23 152.66L85.43 155.46Z" fill="#ff0000"/><path d="M84.90 161.68L87.70 158.88L90.50 161.68L87.70 164.48Z" fill="#ff0000"/><path d="M87.16 169.89L89.96 167.09L92.76 169.89L89.96 172.69Z" fill="#ff0000"/><path d="M89.42 178.50L92.22 175.70L95.02 178.50L92.22 181.30Z" fill="#ff0000"/><path d="M91.69 185.72L94.49 182.92L97.29 185.72L94.49 188.52Z" fill="#ff0000"/><path d="M93.95 192.93L96.75 190.13L99.55 192.93L96.75 195.73Z" fill="#ff0000"/><path d="M96.22 200.15L99.02 197.35L101.82 200.15L99.02 202.95Z" fill="#ff0000"/><path d="M98.48 207.37L101.28 204.57L104.08 207.37L101.28 210.17Z" fill="#ff0000"/><path d="M100.74 214.00L103.54 211.20L106.34 214.00L103.54 216.80Z" fill="#ff0000"/><path d="M103.01 219.63L105.81 216.83L108.61 219.63L105.81 222.43Z" fill="#ff0000"/><path d="M105.27 225.72L108.07 222.92L110.87 225.72L108.07 228.52Z" fill="#ff0000"/><path d="M107.54 231.36L110.34 228.56L113.14 231.36L110.34 234.16Z" fill="#ff0000"/><path d="M109.80 236.77L112.60 233.97L115.40 236.77L112.60 239.57Z" fill="#ff0000"/><path d="M112.06 241.73L114.86 238.93L117.66 241.73L114.86 244.53Z" fill="#ff0000"/><path d="M114.33 245.79L117.13 242.99L119.93 245.79L117.13 248.59Z" fill="#ff0000"/><path d="M116.59 249.17L119.39 246.37L122.19 249.17L119.39 251.97Z" fill="#ff0000"/><path d="M118.86 252.10L121.66 249.30L124.46 252.10L121.66 254.90Z" fill="#ff0000"/><path d="M121.12 254.59L123.92 251.79L126.72 254.59L123.92 257.39Z" fill="#ff0000"/><path d="M123.38 257.03L126.18 254.23L128.98 257.03L126.18 259.83Z" fill="#ff0000"/><path d="M125.65 259.52L128.45 256.72L131.25 259.52L128.45 262.32Z" fill="#ff0000"/><path d="M127.91 262.01L130.71 259.21L133.51 262.01L130.71 264.81Z" fill="#ff0000"/><path d="M130.18 264.24L132.98 261.44L135.78 264.24L132.98 267.04Z" fill="#ff0000"/><path d="M132.44 266.32L135.24 263.52L138.04 266.32L135.24 269.12Z" fill="#ff0000"/><path d="M134.70 268.21L137.50 265.41L140.30 268.21L137.50 271.01Z" fill="#ff0000"/><path d="M136.97 269.85L139.77 267.05L142.57 269.85L139.77 272.65Z" fill="#ff0000"/><path d="M139.23 271.36L142.03 268.56L144.83 271.36L142.03 274.16Z" fill="#ff0000"/><path d="M141.50 272.57L144.30 269.77L147.10 272.57L144.30 275.37Z" fill="#ff0000"/><path d="M143.76 273.41L146.56 270.61L149.36 273.41L146.56 276.21Z" fill="#ff0000"/><path d="M146.02 274.07L148.82 271.27L151.62 274.07L148.82 276.87Z" fill="#ff0000"/><path d="M148.29 274.61L151.09 271.81L153.89 274.61L151.09 277.41Z" fill="#ff0000"/><path d="M150.55 275.08L153.35 272.28L156.15 275.08L153.35 277.88Z" fill="#ff0000"/><path d="M152.82 275.48L155.62 272.68L158.42 275.48L155.62 278.28Z" fill="#ff0000"/><path d="M155.08 275.78L157.88 272.98L160.68 275.78L157.88 278.58Z" fill="#ff0000"/><path d="M157.34 276.00L160.14 273.20L162.94 276.00L160.14 278.80Z" fill="#ff0000"/><path d="M159.61 276.16L162.41 273.36L165.21 276.16L162.41 278.96Z" fill="#ff0000"/><path d="M161.87 276.28L164.67 273.48L167.47 276.28L164.67 279.08Z" fill="#ff0000"/><path d="M164.14 276.36L166.94 273.56L169.74 276.36L166.94 279.16Z" fill="#ff0000"/><path d="M166.40 276.43L169.20 273.63L172.00 276.43L169.20 279.23Z" fill="#ff0000"/><path d="M168.66 276.48L171.46 273.68L174.26 276.48L171.46 279.28Z" fill="#ff0000"/><path d="M170.93 276.50L173.73 273.70L176.53 276.50L173.73 279.30Z" fill="#ff0000"/><path d="M173.19 276.50L175.99 273.70L178.79 276.50L175.99 279.30Z" fill="#ff0000"/><path d="M175.46 276.50L178.26 273.70L181.06 276.50L178.26 279.30Z" fill="#ff0000"/><path d="M177.72 276.50L180.52 273.70L183.32 276.50L180.52 279.30Z" fill="#ff0000"/><path d="M179.98 276.50L182.78 273.70L185.58 276.50L182.78 279.30Z" fill="#ff0000"/><path d="M182.25 276.50L185.05 273.70L187.85 276.50L185.05 279.30Z" fill="#ff0000"/><path d="M184.51 276.50L187.31 273.70L190.11 276.50L187.31 279.30Z" fill="#ff0000"/><path d="M186.78 276.50L189.58 273.70L192.38 276.50L189.58 279.30Z" fill="#ff0000"/><path d="M189.04 276.50L191.84 273.70L194.64 276.50L191.84 279.30Z" fill="#ff0000"/><path d="M191.30 276.50L194.10 273.70L196.90 276.50L194.10 279.30Z" fill="#ff0000"/><path d="M193.57 276.50L196.37 273.70L199.17 276.50L196.37 279.30Z" fill="#ff0000"/><path d="M195.83 276.50L198.63 273.70L201.43 276.50L198.63 279.30Z" fill="#ff0000"/><path d="M198.10 276.50L200.90 273.70L203.70 276.50L200.90 279.30Z" fill="#ff0000"/><path d="M200.36 276.50L203.16 273.70L205.96 276.50L203.16 279.30Z" fill="#ff0000"/><path d="M202.62 276.50L205.42 273.70L208.22 276.50L205.42 279.30Z" fill="#ff0000"/><path d="M204.89 276.50L207.69 273.70L210.49 276.50L207.69 279.30Z" fill="#ff0000"/><path d="M207.15 276.50L209.95 273.70L212.75 276.50L209.95 279.30Z" fill="#ff0000"/><path d="M209.42 276.50L212.22 273.70L215.02 276.50L212.22 279.30Z" fill="#ff0000"/><path d="M211.68 276.50L214.48 273.70L217.28 276.50L214.48 279.30Z" fill="#ff0000"/><path d="M213.94 276.50L216.74 273.70L219.54 276.50L216.74 279.30Z" fill="#ff0000"/><path d="M216.21 276.50L219.01 273.70L221.81 276.50L219.01 279.30Z" fill="#ff0000"/><path d="M218.47 276.50L221.27 273.70L224.07 276.50L221.27 279.30Z" fill="#ff0000"/><path d="M220.74 276.50L223.54 273.70L226.34 276.50L223.54 279.30Z" fill="#ff0000"/><path d="M223.00 276.50L225.80 273.70L228.60 276.50L225.80 279.30Z" fill="#ff0000"/><path d="M225.26 276.50L228.06 273.70L230.86 276.50L228.06 279.30Z" fill="#ff0000"/><path d="M227.53 276.50L230.33 273.70L233.13 276.50L230.33 279.30Z" fill="#ff0000"/><path d="M229.79 276.50L232.59 273.70L235.39 276.50L232.59 279.30Z" fill="#ff0000"/><path d="M232.06 276.50L234.86 273.70L237.66 276.50L234.86 279.30Z" fill="#ff0000"/><path d="M234.32 276.50L237.12 273.70L239.92 276.50L237.12 279.30Z" fill="#ff0000"/><path d="M236.58 276.50L239.38 273.70L242.18 276.50L239.38 279.30Z" fill="#ff0000"/><path d="M238.85 276.50L241.65 273.70L244.45 276.50L241.65 279.30Z" fill="#ff0000"/><path d="M241.11 276.50L243.91 273.70L246.71 276.50L243.91 279.30Z" fill="#ff0000"/><path d="M243.38 276.50L246.18 273.70L248.98 276.50L246.18 279.30Z" fill="#ff0000"/><path d="M245.64 276.50L248.44 273.70L251.24 276.50L248.44 279.30Z" fill="#ff0000"/><path d="M247.90 276.50L250.70 273.70L253.50 276.50L250.70 279.30Z" fill="#ff0000"/><path d="M250.17 276.50L252.97 273.70L255.77 276.50L252.97 279.30Z" fill="#ff0000"/><path d="M252.43 276.50L255.23 273.70L258.03 276.50L255.23 279.30Z" fill="#ff0000"/><path d="M254.70 276.50L257.50 273.70L260.30 276.50L257.50 279.30Z" fill="#ff0000"/><path d="M256.96 276.50L259.76 273.70L262.56 276.50L259.76 279.30Z" fill="#ff0000"/><path d="M259.22 276.50L262.02 273.70L264.82 276.50L262.02 279.30Z" fill="#ff0000"/><path d="M261.49 276.50L264.29 273.70L267.09 276.50L264.29 279.30Z" fill="#ff0000"/><path d="M263.75 276.50L266.55 273.70L269.35 276.50L266.55 279.30Z" fill="#ff0000"/><path d="M266.02 276.50L268.82 273.70L271.62 276.50L268.82 279.30Z" fill="#ff0000"/><path d="M268.28 276.50L271.08 273.70L273.88 276.50L271.08 279.30Z" fill="#ff0000"/><path d="M270.54 276.50L273.34 273.70L276.14 276.50L273.34 279.30Z" fill="#ff0000"/><path d="M272.81 276.50L275.61 273.70L278.41 276.50L275.61 279.30Z" fill="#ff0000"/><path d="M275.07 276.50L277.87 273.70L280.67 276.50L277.87 279.30Z" fill="#ff0000"/><path d="M277.34 276.50L280.14 273.70L282.94 276.50L280.14 279.30Z" fill="#ff0000"/><path d="M279.60 276.50L282.40 273.70L285.20 276.50L282.40 279.30Z" fill="#ff0000"/><path d="M281.86 276.50L284.66 273.70L287.46 276.50L284.66 279.30Z" fill="#ff0000"/><path d="M284.13 276.50L286.93 273.70L289.73 276.50L286.93 279.30Z" fill="#ff0000"/><path d="M286.39 276.50L289.19 273.70L291.99 276.50L289.19 279.30Z" fill="#ff0000"/><path d="M288.66 276.50L291.46 273.70L294.26 276.50L291.46 279.30Z" fill="#ff0000"/><path d="M290.92 276.50L293.72 273.70L296.52 276.50L293.72 279.30Z" fill="#ff0000"/><path d="M293.18 276.50L295.98 273.70L298.78 276.50L295.98 279.30Z" fill="#ff0000"/><path d="M295.45 276.50L298.25 273.70L301.05 276.50L298.25 279.30Z" fill="#ff0000"/><path d="M297.71 276.50L300.51 273.70L303.31 276.50L300.51 279.30Z" fill="#ff0000"/><path d="M299.98 276.50L302.78 273.70L305.58 276.50L302.78 279.30Z" fill="#ff0000"/><path d="M302.24 276.50L305.04 273.70L307.84 276.50L305.04 279.30Z" fill="#ff0000"/><path d="M304.50 276.50L307.30 273.70L310.10 276.50L307.30 279.30Z" fill="#ff0000"/><path d="M306.77 276.50L309.57 273.70L312.37 276.50L309.57 279.30Z" fill="#ff0000"/><path d="M309.03 276.50L311.83 273.70L314.63 276.50L311.83 279.30Z" fill="#ff0000"/><path d="M311.30 276.50L314.10 273.70L316.90 276.50L314.10 279.30Z" fill="#ff0000"/><path d="M313.56 276.50L316.36 273.70L319.16 276.50L316.36 279.30Z" fill="#ff0000"/><path d="M315.82 276.50L318.62 273.70L321.42 276.50L318.62 279.30Z" fill="#ff0000"/><path d="M318.09 276.50L320.89 273.70L323.69 276.50L320.89 279.30Z" fill="#ff0000"/><path d="M320.35 276.50L323.15 273.70L325.95 276.50L323.15 279.30Z" fill="#ff0000"/><path d="M322.62 276.50L325.42 273.70L328.22 276.50L325.42 279.30Z" fill="#ff0000"/><path d="M324.88 276.50L327.68 273.70L330.48 276.50L327.68 279.30Z" fill="#ff0000"/><path d="M327.14 276.50L329.94 273.70L332.74 276.50L329.94 279.30Z" fill="#ff0000"/><path d="M329.41 276.50L332.21 273.70L335.01 276.50L332.21 279.30Z" fill="#ff0000"/><path d="M331.67 276.50L334.47 273.70L337.27 276.50L334.47 279.30Z" fill="#ff0000"/><path d="M333.94 276.50L336.74 273.70L339.54 276.50L336.74 279.30Z" fill="#ff0000"/><path d="M336.20 276.50L339.00 273.70L341.80 276.50L339.00 279.30Z" fill="#ff0000"/><path d="M338.46 276.50L341.26 273.70L344.06 276.50L341.26 279.30Z" fill="#ff0000"/><path d="M340.73 276.50L343.53 273.70L346.33 276.50L343.53 279.30Z" fill="#ff0000"/><path d="M342.99 276.50L345.79 273.70L348.59 276.50L345.79 279.30Z" fill="#ff0000"/><path d="M345.26 276.50L348.06 273.70L350.86 276.50L348.06 279.30Z" fill="#ff0000"/><path d="M347.52 276.50L350.32 273.70L353.12 276.50L350.32 279.30Z" fill="#ff0000"/><path d="M349.78 276.50L352.58 273.70L355.38 276.50L352.58 279.30Z" fill="#ff0000"/><path d="M352.05 276.50L354.85 273.70L357.65 276.50L354.85 279.30Z" fill="#ff0000"/><path d="M354.31 276.50L357.11 273.70L359.91 276.50L357.11 279.30Z" fill="#ff0000"/><path d="M356.58 276.50L359.38 273.70L362.18 276.50L359.38 279.30Z" fill="#ff0000"/><path d="M358.84 276.50L361.64 273.70L364.44 276.50L361.64 279.30Z" fill="#ff0000"/><path d="M361.10 276.50L363.90 273.70L366.70 276.50L363.90 279.30Z" fill="#ff0000"/><path d="M363.37 276.50L366.17 273.70L368.97 276.50L366.17 279.30Z" fill="#ff0000"/><path d="M365.63 276.50L368.43 273.70L371.23 276.50L368.43 279.30Z" fill="#ff0000"/><path d="M367.90 276.50L370.70 273.70L373.50 276.50L370.70 279.30Z" fill="#ff0000"/><path d="M370.16 276.50L372.96 273.70L375.76 276.50L372.96 279.30Z" fill="#ff0000"/><path d="M372.42 276.50L375.22 273.70L378.02 276.50L375.22 279.30Z" fill="#ff0000"/><path d="M374.69 276.50L377.49 273.70L380.29 276.50L377.49 279.30Z" fill="#ff0000"/><path d="M376.95 276.50L379.75 273.70L382.55 276.50L379.75 279.30Z" fill="#ff0000"/><path d="M379.22 276.50L382.02 273.70L384.82 276.50L382.02 279.30Z" fill="#ff0000"/><path d="M381.48 276.50L384.28 273.70L387.08 276.50L384.28 279.30Z" fill="#ff0000"/><path d="M383.74 276.50L386.54 273.70L389.34 276.50L386.54 279.30Z" fill="#ff0000"/><path d="M386.01 276.50L388.81 273.70L391.61 276.50L388.81 279.30Z" fill="#ff0000"/><path d="M388.27 276.50L391.07 273.70L393.87 276.50L391.07 279.30Z" fill="#ff0000"/><path d="M390.54 276.50L393.34 273.70L396.14 276.50L393.34 279.30Z" fill="#ff0000"/><path d="M392.80 276.50L395.60 273.70L398.40 276.50L395.60 279.30Z" fill="#ff0000"/>
<polyline points="58.26,111.03 60.53,108.78 62.79,107.20 65.06,106.97 67.32,108.10 69.58,110.58 71.85,113.96 74.11,118.47 76.38,123.66 78.64,129.75 80.90,136.74 83.17,144.41 85.43,152.52 87.70,161.54 89.96,169.75 92.22,178.37 94.49,185.58 96.75,192.80 99.02,200.01 101.28,207.23 103.54,213.86 105.81,219.50 108.07,225.59 110.34,231.22 112.60,236.64 114.86,241.60 117.13,245.66 119.39,249.04 121.66,251.97 123.92,254.45 126.18,256.89 128.45,259.39 130.71,261.87 132.98,264.11 135.24,266.19 137.50,268.07 139.77,269.72 142.03,271.23 144.30,272.44 146.56,273.27 148.82,273.93 151.09,274.47 153.35,274.94 155.62,275.35 157.88,275.65 160.14,275.86 162.41,276.03 164.67,276.14 166.94,276.23 169.20,276.30 171.46,276.35 173.73,276.37 175.99,276.37 178.26,276.37 180.52,276.37 182.78,276.37 185.05,276.37 187.31,276.37 189.58,276.37 191.84,276.37 194.10,276.37 196.37,276.37 198.63,276.37 200.90,276.37 203.16,276.37 205.42,276.37 207.69,276.37 209.95,276.37 212.22,276.37 214.48,276.37 216.74,276.37 219.01,276.37 221.27,276.37 223.54,276.37 225.80,276.37 228.06,276.37 230.33,276.37 232.59,276.37 234.86,276.37 237.12,276.37 239.38,276.37 241.65,276.37 243.91,276.37 246.18,276.37 248.44,276.37 250.70,276.37 252.97,276.37 255.23,276.37 257.50,276.37 259.76,276.37 262.02,276.37 264.29,276.37 266.55,276.37 268.82,276.37 271.08,276.37 273.34,276.37 275.61,276.37 277.87,276.37 280.14,276.37 282.40,276.37 284.66,276.37 286.93,276.37 289.19,276.37 291.46,276.37 293.72,276.37 295.98,276.37 298.25,276.37 300.51,276.37 302.78,276.37 305.04,276.37 307.30,276.37 309.57,276.37 311.83,276.37 314.10,276.37 316.36,276.37 318.62,276.37 320.89,276.37 323.15,276.37 325.42,276.37 327.68,276.37 329.94,276.37 332.21,276.37 334.47,276.37 336.74,276.37 339.00,276.37 341.26,276.37 343.53,276.37 345.79,276.37 348.06,276.37 350.32,276.37 352.58,276.37 354.85,276.37 357.11,276.37 359.38,276.37 361.64,276.37 363.90,276.37 366.17,276.37 368.43,276.37 370.70,276.37 372.96,276.37 375.22,276.37 377.49,276.37 379.75,276.37 382.02,276.37 384.28,276.37 386.54,276.37 388.81,276.37 391.07,276.37 393.34,276.37 395.60,276.37" fill="none" stroke="#0000ff" stroke-width="1.00"/>
<path d="M58.26 106.52L62.17 113.29L54.36 113.29Z" fill="#0000ff"/><path d="M60.53 104.27L64.43 111.03L56.62 111.03Z" fill="#0000ff"/><path d="M62.79 102.69L66.70 109.45L58.89 109.45Z" fill="#0000ff"/><path d="M65.06 102.46L68.96 109.23L61.15 109.23Z" fill="#0000ff"/><path d="M67.32 103.59L71.23 110.36L63.41 110.36Z" fill="#0000ff"/><path d="M69.58 106.07L73.49 112.84L65.68 112.84Z" fill="#0000ff"/><path d="M71.85 109.45L75.75 116.22L67.94 116.22Z" fill="#0000ff"/><path d="M74.11 113.96L78.02 120.73L70.21 120.73Z" fill="#0000ff"/><path d="M76.38 119.15L80.28 125.92L72.47 125.92Z" fill="#0000ff"/><path d="M78.64 125.24L82.55 132.00L74.73 132.00Z" fill="#0000ff"/><path d="M80.90 132.23L84.81 138.99L77.00 138.99Z" fill="#0000ff"/><path d="M83.17 139.90L87.07 146.66L79.26 146.66Z" fill="#0000ff"/><path d="M85.43 148.01L89.34 154.78L81.53 154.78Z" fill="#0000ff"/><path d="M87.70 157.03L91.60 163.80L83.79 163.80Z" fill="#0000ff"/><path d="M89.96 165.24L93.87 172.01L86.05 172.01Z" fill="#0000ff"/><path d="M92.22 173.86L96.13 180.62L88.32 180.62Z" fill="#0000ff"/><path d="M94.49 181.07L98.39 187.84L90.58 187.84Z" fill="#0000ff"/><path d="M96.75 188.29L100.66 195.05L92.85 195.05Z" fill="#0000ff"/><path d="M99.02 195.50L102.92 202.27L95.11 202.27Z" fill="#0000ff"/><path d="M101.28 202.72L105.19 209.49L97.37 209.49Z" fill="#0000ff"/><path d="M103.54 209.35L107.45 216.12L99.64 216.12Z" fill="#0000ff"/><path d="M105.81 214.99L109.71 221.75L101.90 221.75Z" fill="#0000ff"/><path d="M108.07 221.08L111.98 227.84L104.17 227.84Z" fill="#0000ff"/><path d="M110.34 226.71L114.24 233.48L106.43 233.48Z" fill="#0000ff"/><path d="M112.60 232.13L116.51 238.89L108.69 238.89Z" fill="#0000ff"/><path d="M114.86 237.09L118.77 243.85L110.96 243.85Z" fill="#0000ff"/><path d="M117.13 241.15L121.03 247.91L113.22 247.91Z" fill="#0000ff"/><path d="M119.39 244.53L123.30 251.29L115.49 251.29Z" fill="#0000ff"/><path d="M121.66 247.46L125.56 254.22L117.75 254.22Z" fill="#0000ff"/><path d="M123.92 249.94L127.83 256.71L120.01 256.71Z" fill="#0000ff"/><path d="M126.18 252.38L130.09 259.15L122.28 259.15Z" fill="#0000ff"/><path d="M128.45 254.88L132.35 261.64L124.54 261.64Z" fill="#0000ff"/><path d="M130.71 257.36L134.62 264.13L126.81 264.13Z" fill="#0000ff"/><path d="M132.98 259.60L136.88 266.36L129.07 266.36Z" fill="#0000ff"/><path d="M135.24 261.68L139.15 268.44L131.33 268.44Z" fill="#0000ff"/><path d="M137.50 263.56L141.41 270.33L133.60 270.33Z" fill="#0000ff"/><path d="M139.77 265.21L143.67 271.97L135.86 271.97Z" fill="#0000ff"/><path d="M142.03 266.72L145.94 273.48L138.13 273.48Z" fill="#0000ff"/><path d="M144.30 267.93L148.20 274.69L140.39 274.69Z" fill="#0000ff"/><path d="M146.56 268.76L150.47 275.53L142.65 275.53Z" fill="#0000ff"/><path d="M148.82 269.42L152.73 276.19L144.92 276.19Z" fill="#0000ff"/><path d="M151.09 269.96L154.99 276.73L147.18 276.73Z" fill="#0000ff"/><path d="M153.35 270.43L157.26 277.20L149.45 277.20Z" fill="#0000ff"/><path d="M155.62 270.84L159.52 277.60L151.71 277.60Z" fill="#0000ff"/><path d="M157.88 271.14L161.79 277.90L153.97 277.90Z" fill="#0000ff"/><path d="M160.14 271.35L164.05 278.11L156.24 278.11Z" fill="#0000ff"/><path d="M162.41 271.52L166.31 278.28L158.50 278.28Z" fill="#0000ff"/><path d="M164.67 271.63L168.58 278.40L160.77 278.40Z" fill="#0000ff"/><path d="M166.94 271.72L170.84 278.48L163.03 278.48Z" fill="#0000ff"/><path d="M169.20 271.79L173.11 278.55L165.29 278.55Z" fill="#0000ff"/><path d="M171.46 271.84L175.37 278.60L167.56 278.60Z" fill="#0000ff"/><path d="M173.73 271.86L177.63 278.62L169.82 278.62Z" fill="#0000ff"/><path d="M175.99 271.86L179.90 278.62L172.09 278.62Z" fill="#0000ff"/><path d="M178.26 271.86L182.16 278.62L174.35 278.62Z" fill="#0000ff"/><path d="M180.52 271.86L184.43 278.62L176.61 278.62Z" fill="#0000ff"/><path d="M182.78 271.86L186.69 278.62L178.88 278.62Z" fill="#0000ff"/><path d="M185.05 271.86L188.95 278.62L181.14 278.62Z" fill="#0000ff"/><path d="M187.31 271.86L191.22 278.62L183.41 278.62Z" fill="#0000ff"/><path d="M189.58 271.86L193.48 278.62L185.67 278.62Z" fill="#0000ff"/><path d="M191.84 271.86L195.75 278.62L187.93 278.62Z" fill="#0000ff"/><path d="M194.10 271.86L198.01 278.62L190.20 278.62Z" fill="#0000ff"/><path d="M196.37 271.86L200.27 278.62L192.46 278.62Z" fill="#0000ff"/><path d="M198.63 271.86L202.54 278.62L194.73 278.62Z" fill="#0000ff"/><path d="M200.90 271.86L204.80 278.62L196.99 278.62Z" fill="#0000ff"/><path d="M203.16 271.86L207.07 278.62L199.25 278.62Z" fill="#0000ff"/><path d="M205.42 271.86L209.33 278.62L201.52 278.62Z" fill="#0000ff"/><path d="M207.69 271.86L211.59 278.62L203.78 278.62Z" fill="#0000ff"/><path d="M209.95 271.86L213.86 278.62L206.05 278.62Z" fill="#0000ff"/><path d="M212.22 271.86L216.12 278.62L208.31 278.62Z" fill="#0000ff"/><path d="M214.48 271.86L218.39 278.62L210.57 278.62Z" fill="#0000ff"/><path d="M216.74 271.86L220.65 278.62L212.84 278.62Z" fill="#0000ff"/><path d="M219.01 271.86L222.91 278.62L215.10 278.62Z" fill="#0000ff"/><path d="M221.27 271.86L225.18 278.62L217.37 278.62Z" fill="#0000ff"/><path d="M223.54 271.86L227.44 278.62L219.63 278.62Z" fill="#0000ff"/><path d="M225.80 271.86L229.71 278.62L221.89 278.62Z" fill="#0000ff"/><path d="M228.06 271.86L231.97 278.62L224.16 278.62Z" fill="#0000ff"/><path d="M230.33 271.86L234.23 278.62L226.42 278.62Z" fill="#0000ff"/><path d="M232.59 271.86L236.50 278.62L228.69 278.62Z" fill="#0000ff"/><path d="M234.86 271.86L238.76 278.62L230.95 278.62Z" fill="#0000ff"/><path d="M237.12 271.86L241.03 278.62L233.21 278.62Z" fill="#0000ff"/><path d="M239.38 271.86L243.29 278.62L235.48 278.62Z" fill="#0000ff"/><path d="M241.65 271.86L245.55 278.62L237.74 278.62Z" fill="#0000ff"/><path d="M243.91 271.86L247.82 278.62L240.01 278.62Z" fill="#0000ff"/><path d="M246.18 271.86L250.08 278.62L242.27 278.62Z" fill="#0000ff"/><path d="M248.44 271.86L252.35 278.62L244.53 278.62Z" fill="#0000ff"/><path d="M250.70 271.86L254.61 278.62L246.80 278.62Z" fill="#0000ff"/><path d="M252.97 271.86L256.87 278.62L249.06 278.62Z" fill="#0000ff"/><path d="M255.23 271.86L259.14 278.62L251.33 278.62Z" fill="#0000ff"/><path d="M257.50 271.86L261.40 278.62L253.59 278.62Z" fill="#0000ff"/><path d="M259.76 271.86L263.67 278.62L255.85 278.62Z" fill="#0000ff"/><path d="M262.02 271.86L265.93 278.62L258.12 278.62Z" fill="#0000ff"/><path d="M264.29 271.86L268.19 278.62L260.38 278.62Z" fill="#0000ff"/><path d="M266.55 271.86L270.46 278.62L262.65 278.62Z" fill="#0000ff"/><path d="M268.82 271.86L272.72 278.62L264.91 278.62Z" fill="#0000ff"/><path d="M271.08 271.86L274.99 278.62L267.17 278.62Z" fill="#0000ff"/><path d="M273.34 271.86L277.25 278.62L269.44 278.62Z" fill="#0000ff"/><path d="M275.61 271.86L279.51 278.62L271.70 278.62Z" fill="#0000ff"/><path d="M277.87 271.86L281.78 278.62L273.97 278.62Z" fill="#0000ff"/><path d="M280.14 271.86L284.04 278.62L276.23 278.62Z" fill="#0000ff"/><path d="M282.40 271.86L286.31 278.62L278.49 278.62Z" fill="#0000ff"/><path d="M284.66 271.86L288.57 278.62L280.76 278.62Z" fill="#0000ff"/><path d="M286.93 271.86L290.83 278.62L283.02 278.62Z" fill="#0000ff"/><path d="M289.19 271.86L293.10 278.62L285.29 278.62Z" fill="#0000ff"/><path d="M291.46 271.86L295.36 278.62L287.55 278.62Z" fill="#0000ff"/><path d="M293.72 271.86L297.63 278.62L289.81 278.62Z" fill="#0000ff"/><path d="M295.98 271.86L299.89 278.62L292.08 278.62Z" fill="#0000ff"/><path d="M298.25 271.86L302.15 278.62L294.34 278.62Z" fill="#0000ff"/><path d="M300.51 271.86L304.42 278.62L296.61 278.62Z" fill="#0000ff"/><path d="M302.78 271.86L306.68 278.62L298.87 278.62Z" fill="#0000ff"/><path d="M305.04 271.86L308.95 278.62L301.13 278.62Z" fill="#0000ff"/><path d="M307.30 271.86L311.21 278.62L303.40 278.62Z" fill="#0000ff"/><path d="M309.57 271.86L313.47 278.62L305.66 278.62Z" fill="#0000ff"/><path d="M311.83 271.86L315.74 278.62L307.93 278.62Z" fill="#0000ff"/><path d="M314.10 271.86L318.00 278.62L310.19 278.62Z" fill="#0000ff"/><path d="M316.36 271.86L320.27 278.62L312.45 278.62Z" fill="#0000ff"/><path d="M318.62 271.86L322.53 278.62L314.72 278.62Z" fill="#0000ff"/><path d="M320.89 271.86L324.79 278.62L316.98 278.62Z" fill="#0000ff"/><path d="M323.15 271.86L327.06 278.62L319.25 278.62Z" fill="#0000ff"/><path d="M325.42 271.86L329.32 278.62L321.51 278.62Z" fill="#0000ff"/><path d="M327.68 271.86L331.59 278.62L323.77 278.62Z" fill="#0000ff"/><path d="M329.94 271.86L333.85 278.62L326.04 278.62Z" fill="#0000ff"/><path d="M332.21 271.86L336.11 278.62L328.30 278.62Z" fill="#0000ff"/><path d="M334.47 271.86L338.38 278.62L330.57 278.62Z" fill="#0000ff"/><path d="M336.74 271.86L340.64 278.62L332.83 278.62Z" fill="#0000ff"/><path d="M339.00 271.86L342.91 278.62L335.09 278.62Z" fill="#0000ff"/><path d="M341.26 271.86L345.17 278.62L337.36 278.62Z" fill="#0000ff"/><path d="M343.53 271.86L347.43 278.62L339.62 278.62Z" fill="#0000ff"/><path d="M345.79 271.86L349.70 278.62L341.89 278.62Z" fill="#0000ff"/><path d="M348.06 271.86L351.96 278.62L344.15 278.62Z" fill="#0000ff"/><path d="M350.32 271.86L354.23 278.62L346.41 278.62Z" fill="#0000ff"/><path d="M352.58 271.86L356.49 278.62L348.68 278.62Z" fill="#0000ff"/><path d="M354.85 271.86L358.75 278.62L350.94 278.62Z" fill="#0000ff"/><path d="M357.11 271.86L361.02 278.62L353.21 278.62Z" fill="#0000ff"/><path d="M359.38 271.86L363.28 278.62L355.47 278.62Z" fill="#0000ff"/><path d="M361.64 271.86L365.55 278.62L357.73 278.62Z" fill="#0000ff"/><path d="M363.90 271.86L367.81 278.62L360.00 278.62Z" fill="#0000ff"/><path d="M366.17 271.86L370.07 278.62L362.26 278.62Z" fill="#0000ff"/><path d="M368.43 271.86L372.34 278.62L364.53 278.62Z" fill="#0000ff"/><path d="M370.70 271.86L374.60 278.62L366.79 278.62Z" fill="#0000ff"/><path d="M372.96 271.86L376.87 278.62L369.05 278.62Z" fill="#0000ff"/><path d="M375.22 271.86L379.13 278.62L371.32 278.62Z" fill="#0000ff"/><path d="M377.49 271.86L381.39 278.62L373.58 278.62Z" fill="#0000ff"/><path d="M379.75 271.86L383.66 278.62L375.85 278.62Z" fill="#0000ff"/><path d="M382.02 271.86L385.92 278.62L378.11 278.62Z" fill="#0000ff"/><path d="M384.28 271.86L388.19 278.62L380.37 278.62Z" fill="#0000ff"/><path d="M386.54 271.86L390.45 278.62L382.64 278.62Z" fill="#0000ff"/><path d="M388.81 271.86L392.71 278.62L384.90 278.62Z" fill="#0000ff"/><path d="M391.07 271.86L394.98 278.62L387.17 278.62Z" fill="#0000ff"/><path d="M393.34 271.86L397.24 278.62L389.43 278.62Z" fill="#0000ff"/><path d="M395.60 271.86L399.51 278.62L391.69 278.62Z" fill="#0000ff"/>
<polyline points="58.26,120.95 60.53,115.99 62.79,113.29 65.06,113.74 67.32,117.35 69.58,122.31 71.85,126.59 74.11,132.23 76.38,141.47 78.64,151.40 80.90,161.68 83.17,180.49 85.43,201.82 87.70,220.62 89.96,236.09 92.22,252.65 94.49,263.47 96.75,263.47 99.02,258.96 101.28,257.16 103.54,256.25 105.81,255.58 108.07,255.28 110.34,255.08 112.60,254.99 114.86,254.96 117.13,254.93 119.39,254.92 121.66,254.90 123.92,254.90 126.18,254.93 128.45,255.00 130.71,255.10 132.98,255.21 135.24,255.30 137.50,255.35 139.77,255.38 142.03,255.41 144.30,255.44 146.56,255.46 148.82,255.47 151.09,255.48 153.35,255.49" fill="none" stroke="#ffc0cb" stroke-width="1.00"/>
<circle cx="58.26" cy="120.95" r="3.10" fill="#ffc0cb"/><circle cx="60.53" cy="115.99" r="3.10" fill="#ffc0cb"/><circle cx="62.79" cy="113.29" r="3.10" fill="#ffc0cb"/><circle cx="65.06" cy="113.74" r="3.10" fill="#ffc0cb"/><circle cx="67.32" cy="117.35" r="3.10" fill="#ffc0cb"/><circle cx="69.58" cy="122.31" r="3.10" fill="#ffc0cb"/><circle cx="71.85" cy="126.59" r="3.10" fill="#ffc0cb"/><circle cx="74.11" cy="132.23" r="3.10" fill="#ffc0cb"/><circle cx="76.38" cy="141.47" r="3.10" fill="#ffc0cb"/><circle cx="78.64" cy="151.40" r="3.10" fill="#ffc0cb"/><circle cx="80.90" cy="161.68" r="3.10" fill="#ffc0cb"/><circle cx="83.17" cy="180.49" r="3.10" fill="#ffc0cb"/><circle cx="85.43" cy="201.82" r="3.10" fill="#ffc0cb"/><circle cx="87.70" cy="220.62" r="3.10" fill="#ffc0cb"/><circle cx="89.96" cy="236.09" r="3.10" fill="#ffc0cb"/><circle cx="92.22" cy="252.65" r="3.10" fill="#ffc0cb"/><circle cx="94.49" cy="263.47" r="3.10" fill="#ffc0cb"/><circle cx="96.75" cy="263.47" r="3.10" fill="#ffc0cb"/><circle cx="99.02" cy="258.96" r="3.10" fill="#ffc0cb"/><circle cx="101.28" cy="257.16" r="3.10" fill="#ffc0cb"/><circle cx="103.54" cy="256.25" r="3.10" fill="#ffc0cb"/><circle cx="105.81" cy="255.58" r="3.10" fill="#ffc0cb"/><circle cx="108.07" cy="255.28" r="3.10" fill="#ffc0cb"/><circle cx="110.34" cy="255.08" r="3.10" fill="#ffc0cb"/><circle cx="112.60" cy="254.99" r="3.10" fill="#ffc0cb"/><circle cx="114.86" cy="254.96" r="3.10" fill="#ffc0cb"/><circle cx="117.13" cy="254.93" r="3.10" fill="#ffc0cb"/><circle cx="119.39" cy="254.92" r="3.10" fill="#ffc0cb"/><circle cx="121.66" cy="254.90" r="3.10" fill="#ffc0cb"/><circle cx="123.92" cy="254.90" r="3.10" fill="#ffc0cb"/><circle cx="126.18" cy="254.93" r="3.10" fill="#ffc0cb"/><circle cx="128.45" cy="255.00" r="3.10" fill="#ffc0cb"/><circle cx="130.71" cy="255.10" r="3.10" fill="#ffc0cb"/><circle cx="132.98" cy="255.21" r="3.10" fill="#ffc0cb"/><circle cx="135.24" cy="255.30" r="3.10" fill="#ffc0cb"/><circle cx="137.50" cy="255.35" r="3.10" fill="#ffc0cb"/><circle cx="139.77" cy="255.38" r="3.10" fill="#ffc0cb"/><circle cx="142.03" cy="255.41" r="3.10" fill="#ffc0cb"/><circle cx="144.30" cy="255.44" r="3.10" fill="#ffc0cb"/><circle cx="146.56" cy="255.46" r="3.10" fill="#ffc0cb"/><circle cx="148.82" cy="255.47" r="3.10" fill="#ffc0cb"/><circle cx="151.09" cy="255.48" r="3.10" fill="#ffc0cb"/><circle cx="153.35" cy="255.49" r="3.10" fill="#ffc0cb"/>
<g stroke="#8a8084" stroke-width="0.45" fill="none"><path d="M58.26 122.31V119.60M55.96 122.31H60.56M55.96 119.60H60.56M60.53 117.46V114.53M58.23 117.46H62.83M58.23 114.53H62.83M62.79 114.87V111.71M60.49 114.87H65.09M60.49 111.71H65.09M65.06 115.43V112.05M62.76 115.43H67.36M62.76 112.05H67.36M67.32 119.15V115.54M65.02 119.15H69.62M65.02 115.54H69.62M69.58 124.20V120.41M67.28 124.20H71.88M67.28 120.41H71.88M71.85 128.56V124.62M69.55 128.56H74.15M69.55 124.62H74.15M74.11 134.30V130.16M71.81 134.30H76.41M71.81 130.16H76.41M76.38 143.73V139.22M74.08 143.73H78.68M74.08 139.22H78.68M78.64 154.55V148.24M76.34 154.55H80.94M76.34 148.24H80.94M80.90 166.19V157.17M78.60 166.19H83.20M78.60 157.17H83.20M83.17 189.51V171.47M80.87 189.51H85.47M80.87 171.47H85.47M85.43 204.34V199.29M83.13 204.34H87.73M83.13 199.29H87.73M87.70 222.43V218.82M85.40 222.43H90.00M85.40 218.82H90.00M89.96 237.64V234.55M87.66 237.64H92.26M87.66 234.55H92.26M92.22 254.00V251.29M89.92 254.00H94.52M89.92 251.29H94.52M94.49 264.61V262.33M92.19 264.61H96.79M92.19 262.33H96.79M96.75 264.37V262.57M94.45 264.37H99.05M94.45 262.57H99.05M99.02 259.44V258.48M96.72 259.44H101.32M96.72 258.48H101.32M101.28 257.34V256.98M98.98 257.34H103.58M98.98 256.98H103.58M103.54 256.42V256.09M101.24 256.42H105.84M101.24 256.09H105.84M105.81 255.73V255.42M103.51 255.73H108.11M103.51 255.42H108.11M108.07 255.43V255.14M105.77 255.43H110.37M105.77 255.14H110.37M110.34 255.23V254.94M108.04 255.23H112.64M108.04 254.94H112.64M112.60 255.13V254.85M110.30 255.13H114.90M110.30 254.85H114.90M114.86 255.09V254.82M112.56 255.09H117.16M112.56 254.82H117.16M117.13 255.07V254.80M114.83 255.07H119.43M114.83 254.80H119.43M119.39 255.05V254.78M117.09 255.05H121.69M117.09 254.78H121.69M121.66 255.03V254.78M119.36 255.03H123.96M119.36 254.78H123.96M123.92 255.02V254.78M121.62 255.02H126.22M121.62 254.78H126.22M126.18 255.05V254.81M123.88 255.05H128.48M123.88 254.81H128.48M128.45 255.11V254.90M126.15 255.11H130.75M126.15 254.90H130.75M130.71 255.19V255.01M128.41 255.19H133.01M128.41 255.01H133.01"/></g>
</g>
<rect x="42.40" y="42.50" width="366.60" height="243.60" fill="none" stroke="#000" stroke-width="1.1"/>
<g stroke="#000" stroke-width="1.1">
<line x1="56.00" y1="286.10" x2="56.00" y2="289.90"/>
<line x1="89.96" y1="286.10" x2="89.96" y2="289.90"/>
<line x1="123.92" y1="286.10" x2="123.92" y2="289.90"/>
<line x1="157.88" y1="286.10" x2="157.88" y2="289.90"/>
<line x1="191.84" y1="286.10" x2="191.84" y2="289.90"/>
<line x1="225.80" y1="286.10" x2="225.80" y2="289.90"/>
<line x1="259.76" y1="286.10" x2="259.76" y2="289.90"/>
<line x1="293.72" y1="286.10" x2="293.72" y2="289.90"/>
<line x1="327.68" y1="286.10" x2="327.68" y2="289.90"/>
<line x1="361.64" y1="286.10" x2="361.64" y2="289.90"/>
<line x1="395.60" y1="286.10" x2="395.60" y2="289.90"/>
<line x1="42.40" y1="277.00" x2="38.60" y2="277.00"/>
<line x1="42.40" y1="231.90" x2="38.60" y2="231.90"/>
<line x1="42.40" y1="186.80" x2="38.60" y2="186.80"/>
<line x1="42.40" y1="141.70" x2="38.60" y2="141.70"/>
<line x1="42.40" y1="96.60" x2="38.60" y2="96.60"/>
<line x1="42.40" y1="51.50" x2="38.60" y2="51.50"/>
</g>
<g style="will-change:transform">
<text transform="translate(56.00 300.3) scale(1 1.100)" text-anchor="middle">0</text>
<text transform="translate(89.96 300.3) scale(1 1.100)" text-anchor="middle">15</text>
<text transform="translate(123.92 300.3) scale(1 1.100)" text-anchor="middle">30</text>
<text transform="translate(157.88 300.3) scale(1 1.100)" text-anchor="middle">45</text>
<text transform="translate(191.84 300.3) scale(1 1.100)" text-anchor="middle">60</text>
<text transform="translate(225.80 300.3) scale(1 1.100)" text-anchor="middle">75</text>
<text transform="translate(259.76 300.3) scale(1 1.100)" text-anchor="middle">90</text>
<text transform="translate(293.72 300.3) scale(1 1.100)" text-anchor="middle">105</text>
<text transform="translate(327.68 300.3) scale(1 1.100)" text-anchor="middle">120</text>
<text transform="translate(361.64 300.3) scale(1 1.100)" text-anchor="middle">135</text>
<text transform="translate(395.60 300.3) scale(1 1.100)" text-anchor="middle">150</text>
<text transform="translate(33.2 277.00) rotate(-90) scale(1 1.100)" text-anchor="middle">0.0</text>
<text transform="translate(33.2 231.90) rotate(-90) scale(1 1.100)" text-anchor="middle">0.1</text>
<text transform="translate(33.2 186.80) rotate(-90) scale(1 1.100)" text-anchor="middle">0.2</text>
<text transform="translate(33.2 141.70) rotate(-90) scale(1 1.100)" text-anchor="middle">0.3</text>
<text transform="translate(33.2 96.60) rotate(-90) scale(1 1.100)" text-anchor="middle">0.4</text>
<text transform="translate(33.2 51.50) rotate(-90) scale(1 1.100)" text-anchor="middle">0.5</text>
<text transform="translate(225.7 315.8) scale(1 1.100)" text-anchor="middle">number of iterations</text>
<text transform="translate(17.6 164.2) rotate(-90) scale(1 1.100)" text-anchor="middle">tprob convergence</text>
</g>
<line x1="263.00" y1="157.40" x2="287.30" y2="157.40" stroke="#000" stroke-width="1.1"/>
<circle cx="275.10" cy="157.40" r="3.10" fill="#000"/>
<g style="will-change:transform"><text transform="translate(299.00 162.80) scale(1 1.100)">Baum−Welch</text></g>
<line x1="263.00" y1="173.40" x2="287.30" y2="173.40" stroke="#00ff00" stroke-width="1.1"/>
<rect x="272.10" y="170.40" width="6.00" height="6.00" fill="#00ff00"/>
<g style="will-change:transform"><text transform="translate(299.00 178.80) scale(1 1.100)">Stochastic EM 1</text></g>
<line x1="263.00" y1="189.20" x2="287.30" y2="189.20" stroke="#ff0000" stroke-width="1.1"/>
<path d="M272.30 189.20L275.10 186.40L277.90 189.20L275.10 192.00Z" fill="#ff0000"/>
<g style="will-change:transform"><text transform="translate(299.00 194.60) scale(1 1.100)">Stochastic EM 3</text></g>
<line x1="263.00" y1="205.00" x2="287.30" y2="205.00" stroke="#0000ff" stroke-width="1.1"/>
<path d="M275.10 200.49L279.01 207.26L271.19 207.26Z" fill="#0000ff"/>
<g style="will-change:transform"><text transform="translate(299.00 210.40) scale(1 1.100)">Stochastic EM 5</text></g>
<line x1="263.00" y1="220.90" x2="287.30" y2="220.90" stroke="#ffc0cb" stroke-width="1.1"/>
<circle cx="275.10" cy="220.90" r="3.10" fill="#ffc0cb"/>
<g style="will-change:transform"><text transform="translate(299.00 226.30) scale(1 1.100)">Viterbi</text></g>
</svg></body></html>
